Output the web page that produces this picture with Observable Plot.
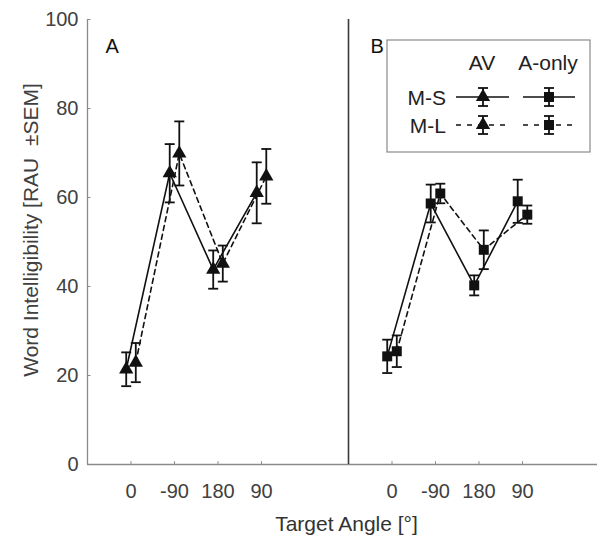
<!DOCTYPE html>
<html><head><meta charset="utf-8">
<script src="https://cdn.jsdelivr.net/npm/d3@7"></script>
<script src="https://cdn.jsdelivr.net/npm/@observablehq/plot@0.6"></script>
<style>
body{margin:0;background:#fff;}
#wrap{position:relative;width:597px;height:538px;overflow:hidden;}
#wrap svg{position:absolute;left:0;top:0;}
</style></head><body><div id="wrap"></div>
<script>
// ---- data ----
const angles = ["0", "-90", "180", "90"];
const panels = ["A", "B"];
const seriesNames = ["M-S", "M-L"];
const conditions = ["AV", "A-only"];
// Panel A (AV, triangles)
const avMS    = [21.4, 65.45, 43.8, 61.05];
const avMSerr = [3.8, 6.55, 4.3, 6.85];
const avML    = [22.9, 69.9, 45.15, 64.75];
const avMLerr = [4.4, 7.2, 4.05, 6.15];
// Panel B (A-only, squares)
const aoMS    = [24.3, 58.65, 40.25, 59.15];
const aoMSerr = [3.75, 4.25, 2.25, 4.85];
const aoML    = [25.45, 60.9, 48.25, 56.15];
const aoMLerr = [3.55, 2.2, 4.35, 2.05];
const yTicks = [0, 20, 40, 60, 80, 100];

// ---- layout ----
const FONT = "Arial, 'Liberation Sans', Helvetica, sans-serif";
const W = 597, H = 538, ML = 87, MT = 19, MB = 74;
const UNIT = 43.5;                // px per category slot
const PANEL_SLOTS = 6;
const OFF = 0.11;                 // series offset in slots
const INK = "#111";

const sets = [
  {panel: 0, series: "M-S", vals: avMS, errs: avMSerr},
  {panel: 0, series: "M-L", vals: avML, errs: avMLerr},
  {panel: 1, series: "M-S", vals: aoMS, errs: aoMSerr},
  {panel: 1, series: "M-L", vals: aoML, errs: aoMLerr}
];
const rows = [];
for (const s of sets) s.vals.forEach((v, i) => rows.push({
  panel: s.panel, series: s.series, cat: angles[i],
  x: s.panel * PANEL_SLOTS + i + 1 + (s.series === "M-S" ? -OFF : OFF),
  v, lo: v - s.errs[i], hi: v + s.errs[i]
}));
const xTickPos = [];
panels.forEach((p, pi) => angles.forEach((a, i) => xTickPos.push(pi * PANEL_SLOTS + i + 1)));
const tickLabel = d => angles[(d - 1) % PANEL_SLOTS];

const hcap = {draw(ctx) { ctx.moveTo(-5, 0); ctx.lineTo(5, 0); }};
const tickRight = {draw(ctx) { ctx.moveTo(0, 0); ctx.lineTo(3, 0); }};
const tickUp = {draw(ctx) { ctx.moveTo(0, 0); ctx.lineTo(0, -3.3); }};

const msRows = rows.filter(d => d.series === "M-S");
const mlRows = rows.filter(d => d.series === "M-L");

const plot = Plot.plot({
  width: W, height: H, marginLeft: ML, marginRight: 0, marginTop: MT, marginBottom: MB,
  style: {fontFamily: FONT, fontSize: "20px", background: "white", overflow: "visible"},
  x: {domain: [0, (W - ML) / UNIT]},
  y: {domain: [0, 100]},
  marks: [
    Plot.ruleY([0], {stroke: "#8a8a8a", strokeWidth: 1.3}),
    Plot.ruleX([0], {y1: 0, y2: 100, stroke: "#8a8a8a", strokeWidth: 1.3}),
    Plot.ruleX([PANEL_SLOTS], {y1: 0, y2: 100, stroke: "#3a3a3a", strokeWidth: 1.6}),
    Plot.dot(yTicks, {x: 0, y: d => d, symbol: tickRight, stroke: "#8a8a8a", fill: "none", strokeWidth: 1}),
    Plot.dot(xTickPos, {x: d => d, y: 0, symbol: tickUp, stroke: "#8a8a8a", fill: "none", strokeWidth: 1}),
    Plot.axisY({ticks: yTicks, tickSize: 0, tickPadding: 9, fontSize: 20, fill: "#404040", label: null}),
    Plot.axisX({ticks: xTickPos, tickFormat: tickLabel, tickSize: 0, tickPadding: 19, fontSize: 20, fill: "#404040", label: null}),
    Plot.text(["Target Angle [°]"], {frameAnchor: "bottom", dx: 4, dy: 66.5, lineAnchor: "bottom", textAnchor: "middle", fontSize: 21, fill: "#333"}),
    Plot.text(["Word Intelligibility [RAU  ±SEM]"], {frameAnchor: "left", dx: -50, dy: -12, rotate: -90, lineAnchor: "bottom", textAnchor: "middle", fontSize: 21, fill: "#404040"}),
    Plot.text([panels[0]], {frameAnchor: "top-left", dx: 18, dy: 33, lineAnchor: "bottom", textAnchor: "start", fontSize: 20, fill: "#111"}),
    Plot.text([panels[1]], {frameAnchor: "top-left", dx: 283, dy: 33, lineAnchor: "bottom", textAnchor: "start", fontSize: 20, fill: "#111"}),
    // lines
    Plot.line(msRows, {x: "x", y: "v", z: "panel", stroke: INK, strokeWidth: 1.6}),
    Plot.line(mlRows, {x: "x", y: "v", z: "panel", stroke: INK, strokeWidth: 1.6, strokeDasharray: "5,4"}),
    // error bars
    Plot.ruleX(rows, {x: "x", y1: "lo", y2: "hi", stroke: INK, strokeWidth: 1.8}),
    Plot.dot(rows, {x: "x", y: "hi", symbol: hcap, stroke: INK, fill: "none", strokeWidth: 1.8}),
    Plot.dot(rows, {x: "x", y: "lo", symbol: hcap, stroke: INK, fill: "none", strokeWidth: 1.8}),
    // markers
    Plot.dot(rows.filter(d => d.panel === 0), {x: "x", y: "v", symbol: "triangle", r: 5.3, fill: INK, stroke: "none"}),
    Plot.dot(rows.filter(d => d.panel === 1), {x: "x", y: "v", symbol: "square", r: 5.64, fill: INK, stroke: "none"})
  ]
});
const wrap = document.getElementById("wrap");
wrap.appendChild(plot);

// ---- legend overlay ----
const svg = d3.select(wrap).append("svg").attr("width", W).attr("height", H)
  .style("font-family", FONT).style("pointer-events", "none");
const box = {x: 387, y: 40, w: 203, h: 112};
svg.append("rect").attr("x", box.x).attr("y", box.y).attr("width", box.w).attr("height", box.h)
  .attr("fill", "white").attr("stroke", "#8a8a8a").attr("stroke-width", 1.2);
const colX = [482, 548];
const colLine = [[456, 509], [523, 575]];
const rowY = [97, 125];
const symbols = [d3.symbolTriangle, d3.symbolSquare];
const symSizes = [88, 100];
conditions.forEach((c, ci) => svg.append("text").attr("x", colX[ci]).attr("y", 70)
  .attr("text-anchor", "middle").attr("font-size", 21).attr("fill", "#222").text(c));
seriesNames.forEach((s, si) => {
  svg.append("text").attr("x", 446).attr("y", rowY[si] + 7.5).attr("text-anchor", "end")
    .attr("font-size", 21).attr("fill", "#222").text(s);
  conditions.forEach((c, ci) => {
    const g = svg.append("g");
    g.append("line").attr("x1", colLine[ci][0]).attr("x2", colLine[ci][1])
      .attr("y1", rowY[si]).attr("y2", rowY[si]).attr("stroke", INK).attr("stroke-width", 1.6)
      .attr("stroke-dasharray", si === 1 ? "5,6" : null);
    const cx = colX[ci] + 1;
    g.append("line").attr("x1", cx).attr("x2", cx).attr("y1", rowY[si] - 9).attr("y2", rowY[si] + 9)
      .attr("stroke", INK).attr("stroke-width", 1.8);
    [-9, 9].forEach(dy => g.append("line").attr("x1", cx - 5).attr("x2", cx + 5)
      .attr("y1", rowY[si] + dy).attr("y2", rowY[si] + dy).attr("stroke", INK).attr("stroke-width", 1.8));
    g.append("path").attr("transform", `translate(${cx},${rowY[si]})`)
      .attr("d", d3.symbol(symbols[ci], symSizes[ci])()).attr("fill", INK);
  });
});
</script>
</body></html>
